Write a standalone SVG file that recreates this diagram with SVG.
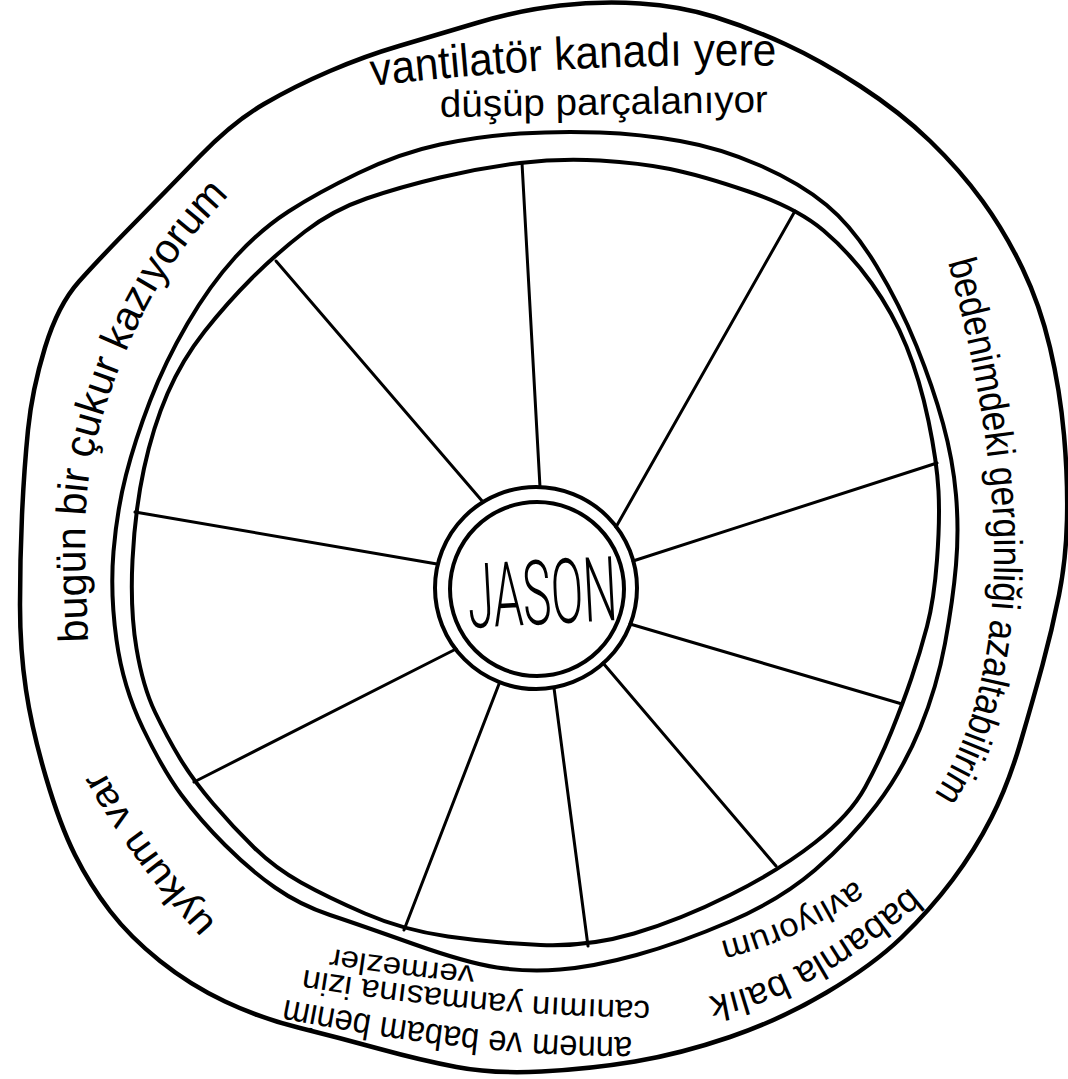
<svg xmlns="http://www.w3.org/2000/svg" width="1068" height="1079" viewBox="0 0 1068 1079">
<style>
.ln{fill:none;stroke:#000;stroke-linecap:round;stroke-linejoin:round}
.bd{stroke-width:4.5}
.rg{stroke-width:4}
.sp{stroke-width:3}
.tx{font-family:"Liberation Sans","DejaVu Sans",sans-serif;fill:#000}
.nm{font-family:"Roboto","Liberation Sans",sans-serif;font-weight:300;fill:#000}
</style>
<defs>
<path id="p-top1" d="M372,86 Q572,62 780,66"/>
<path id="p-top2" d="M440,117 L772,112"/>
<path id="p-right" d="M948,262 C975,360 995,470 994,560 C993,650 975,740 928,803"/>
<path id="p-br1" d="M910,887 Q792,986 705,997"/>
<path id="p-br2" d="M856,880 Q788,926 718,942"/>
<path id="p-b1" d="M632,1037 C540,1038 420,1027 283,999"/>
<path id="p-b2" d="M650,1001 C560,999 440,993 300,969"/>
<path id="p-b3" d="M475,966 Q400,960 328,948"/>
<path id="p-ll" d="M216,924 Q140,840 98,760"/>
<path id="p-left" d="M88,642 C86,580 82,520 90,470 C98,420 120,360 145,310 C170,262 200,225 232,192"/>
</defs>
<rect width="1068" height="1079" fill="#fff"/>
<g id="outer-border">
<path class="ln bd" d="M560,5.5 Q600,1 640,3.5 Q680,6 715,17 Q750,28 785,44 Q820,60 860,86 Q900,112 930,141 Q960,170 982.5,201 Q1005,232 1022.5,268.5 Q1040,305 1050,347.5 Q1060,390 1064,435 Q1068,480 1067,520 Q1066,560 1059,595 Q1052,630 1042.5,665 Q1033,700 1020.5,742.5 Q1008,785 991.5,817.5 Q975,850 952.5,880 Q930,910 901.5,937.5 Q873,965 826.5,992.5 Q780,1020 730,1037 Q680,1054 635,1061.5 Q590,1069 541.5,1071.5 Q493,1074 456.5,1067 Q420,1060 380,1049 Q340,1038 300,1028 Q260,1018 225,1001.5 Q190,985 160,961 Q130,937 110,911 Q90,885 75,855 Q60,825 46,777.5 Q32,730 26,690 Q20,650 20,605 Q20,560 22,515 Q24,470 28,430 Q32,390 45,347.5 Q58,305 79,281.5 Q100,258 133.5,224 Q167,190 200,156 Q233,122 264,104 Q295,86 330,71 Q365,56 399,46 Q433,36 476.5,23 Q520,10 560,5.5 Z"/>
</g>
<g id="wheel-ring">
<path class="ln rg" d="M520,133.5 Q560,131 600,132.5 Q640,134 680,141 Q720,148 760,165.5 Q800,183 826.5,205 Q853,227 876.5,266 Q900,305 916.5,346 Q933,387 943,423.5 Q953,460 956,495 Q959,530 956,565 Q953,600 945,643.5 Q937,687 920,728.5 Q903,770 876.5,805 Q850,840 815,870 Q780,900 730,921.5 Q680,943 636.5,955 Q593,967 560,969.5 Q527,972 497,967.5 Q467,963 413.5,944 Q360,925 330,915 Q300,905 275,887.5 Q250,870 225,845 Q200,820 181.5,795 Q163,770 143,728.5 Q123,687 116.5,640 Q110,593 113.5,551.5 Q117,510 126,475 Q135,440 150,401 Q165,362 187.5,323.5 Q210,285 235,257.5 Q260,230 288.5,211.5 Q317,193 358.5,173 Q400,153 440,144.5 Q480,136 520,133.5 Z"/>
<path class="ln rg" d="M520,163 Q560,158 600,160.5 Q640,163 670,169 Q700,175 748.5,191.5 Q797,208 823.5,230.5 Q850,253 871.5,283 Q893,313 906.5,346.5 Q920,380 928.5,421 Q937,462 938.5,491 Q940,520 937,560 Q934,600 927,626.5 Q920,653 911.5,678 Q903,703 891.5,731.5 Q880,760 865,787.5 Q850,815 815,842.5 Q780,870 730,895 Q680,920 634,933.5 Q588,947 540.5,945 Q493,943 448,936.5 Q403,930 365,913.5 Q327,897 301,882.5 Q275,868 254,847.5 Q233,827 213,803.5 Q193,780 180,758.5 Q167,737 155,712 Q143,687 136.5,648.5 Q130,610 132.5,560 Q135,510 144,468.5 Q153,427 167.5,393.5 Q182,360 204.5,331.5 Q227,303 252,278 Q277,253 305,231.5 Q333,210 366.5,198.5 Q400,187 440,177.5 Q480,168 520,163 Z"/>
</g>
<g id="spokes">
<line class="ln sp" x1="522" y1="163" x2="540" y2="487"/>
<line class="ln sp" x1="795" y1="211" x2="616" y2="527"/>
<line class="ln sp" x1="937" y1="463" x2="633" y2="561"/>
<line class="ln sp" x1="902" y1="704" x2="630" y2="624"/>
<line class="ln sp" x1="776" y1="866" x2="603" y2="663"/>
<line class="ln sp" x1="588" y1="946" x2="554" y2="688"/>
<line class="ln sp" x1="404" y1="930" x2="499" y2="684"/>
<line class="ln sp" x1="194" y1="782" x2="456" y2="649"/>
<line class="ln sp" x1="135" y1="512" x2="437" y2="564"/>
<line class="ln sp" x1="276" y1="261" x2="483" y2="502"/>
</g>
<g id="node-jason">
<circle class="ln rg" cx="536" cy="588" r="101" fill="#fff"/>
<circle class="ln rg" cx="537" cy="589" r="87"/>
<text class="nm" x="542" y="624" font-size="90" text-anchor="middle" textLength="150" lengthAdjust="spacingAndGlyphs" transform="rotate(-3 542 590)">JASON</text>
</g>
<g id="text-top">
<text class="tx" font-size="46"><textPath href="#p-top1" textLength="405" lengthAdjust="spacingAndGlyphs">vantilatör kanadı yere</textPath></text>
<text class="tx" font-size="38"><textPath href="#p-top2" textLength="328" lengthAdjust="spacingAndGlyphs">düşüp parçalanıyor</textPath></text>
</g>
<g id="text-right">
<text class="tx" font-size="40"><textPath href="#p-right" textLength="548" lengthAdjust="spacingAndGlyphs">bedenimdeki gerginliği azaltabilirim</textPath></text>
</g>
<g id="text-bottom-right">
<text class="tx" font-size="37"><textPath href="#p-br1" textLength="232" lengthAdjust="spacingAndGlyphs">babamla balık</textPath></text>
<text class="tx" font-size="33"><textPath href="#p-br2" textLength="150" lengthAdjust="spacingAndGlyphs">avlıyorum</textPath></text>
</g>
<g id="text-bottom">
<text class="tx" font-size="36"><textPath href="#p-b1" textLength="350" lengthAdjust="spacingAndGlyphs">annem ve babam benim</textPath></text>
<text class="tx" font-size="32"><textPath href="#p-b2" textLength="348" lengthAdjust="spacingAndGlyphs">canımın yanmasına izin</textPath></text>
<text class="tx" font-size="30"><textPath href="#p-b3" textLength="145" lengthAdjust="spacingAndGlyphs">vermezler</textPath></text>
</g>
<g id="text-lower-left">
<text class="tx" font-size="38"><textPath href="#p-ll" textLength="192" lengthAdjust="spacingAndGlyphs">uykum var</textPath></text>
</g>
<g id="text-left">
<text class="tx" font-size="42"><textPath href="#p-left" textLength="485" lengthAdjust="spacingAndGlyphs">bugün bir çukur kazıyorum</textPath></text>
</g>
</svg>
